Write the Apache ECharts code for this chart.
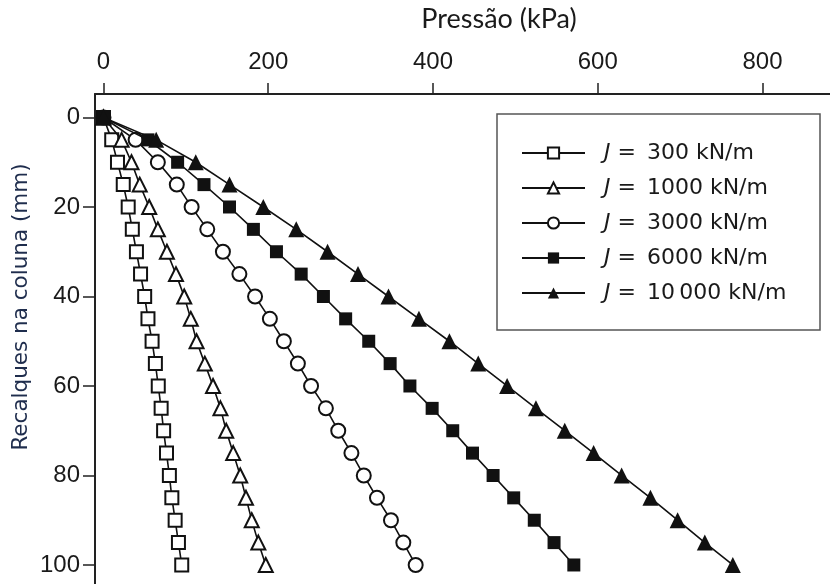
<!DOCTYPE html>
<html>
<head>
<meta charset="utf-8">
<script src="https://cdn.jsdelivr.net/npm/echarts@6/dist/echarts.min.js"></script>
<style>
  html, body { margin: 0; padding: 0; background: #fff; }
  #chart { width: 830px; height: 584px; }
</style>
</head>
<body>
<div id="chart"></div>
<script>
// Settlement of the column (mm), one reading every 5 mm
const settlement = [0, 5, 10, 15, 20, 25, 30, 35, 40, 45, 50, 55, 60, 65, 70, 75, 80, 85, 90, 95, 100];

// Applied pressure (kPa) for each geosynthetic stiffness J
const pressJ300   = [0, 10, 17, 24, 30, 35, 40, 45, 50, 54, 59, 63, 66.5, 70, 73, 76.5, 80, 83, 87, 91, 95];
const pressJ1000  = [0, 22, 34, 44, 55.5, 66, 77, 88, 98, 106, 113, 123, 133, 142, 149, 157.5, 166, 173, 180, 188, 197];
const pressJ3000  = [0, 39, 66, 89, 107, 126, 145, 165, 184, 202, 219, 236, 252, 270, 285, 301, 316, 332, 349, 364, 379];
const pressJ6000  = [0, 54, 90, 122, 153, 182, 210, 240, 267, 294, 322, 348, 372, 399, 424, 448, 473, 498, 523, 547, 571];
const pressJ10000 = [0, 64, 112, 153, 194, 234, 272, 309, 346, 383, 420, 455, 490, 525, 560, 595, 629, 664, 697, 730, 764];

const seriesNames = ['J = 300 kN/m', 'J = 1000 kN/m', 'J = 3000 kN/m', 'J = 6000 kN/m', 'J = 10\u2009000 kN/m'];
const seriesData = [pressJ300, pressJ1000, pressJ3000, pressJ6000, pressJ10000];

const pressureTicks = [0, 200, 400, 600, 800];
const settlementTicks = [0, 20, 40, 60, 80, 100];

const xTitle = 'Pressão (kPa)';
const yTitle = 'Recalques na coluna (mm)';

const ink = '#111';
const markerStyles = [
  { symbol: 'rect',     size: 13, filled: false },
  { symbol: 'triangle', size: 14, filled: false },
  { symbol: 'circle',   size: 14, filled: false },
  { symbol: 'rect',     size: 13, filled: true },
  { symbol: 'triangle', size: 16, filled: true }
];

const series = seriesData.map((vals, i) => {
  const m = markerStyles[i];
  return {
    name: seriesNames[i],
    type: 'line',
    data: vals.map((p, k) => [p, settlement[k]]),
    symbol: m.symbol,
    symbolSize: m.size,
    showAllSymbol: true,
    lineStyle: { color: ink, width: 1.6 },
    itemStyle: {
      color: m.filled ? ink : '#fff',
      borderColor: ink,
      borderWidth: m.filled ? 0 : 2
    },
    emphasis: { disabled: true },
    z: 2 + i
  };
});

// legend label: italic J, then the rest of the name with a wider gap after "="
function legendLabel(name) {
  return '{i|J} =\u2002' + name.slice(4);
}

const chart = echarts.init(document.getElementById('chart'), null, { renderer: 'canvas' });

chart.setOption({
  animation: false,
  backgroundColor: '#fff',
  grid: { left: 95, top: 94, right: 0, bottom: 0, containLabel: false },
  xAxis: {
    type: 'value',
    position: 'top',
    min: -10.3,
    max: 882,
    splitLine: { show: false },
    axisLine: { show: true, onZero: false, lineStyle: { color: '#222', width: 2 } },
    axisTick: { show: true, customValues: pressureTicks, length: 11, lineStyle: { color: '#222', width: 1.5 } },
    axisLabel: {
      customValues: pressureTicks,
      margin: 20,
      color: '#1a1a1a',
      fontFamily: 'Liberation Sans',
      fontSize: 24
    }
  },
  yAxis: {
    type: 'value',
    inverse: true,
    min: -5.25,
    max: 104.25,
    splitLine: { show: false },
    axisLine: { show: true, onZero: false, lineStyle: { color: '#222', width: 2 } },
    axisTick: { show: true, customValues: settlementTicks, length: 12, lineStyle: { color: '#222', width: 1.5 } },
    axisLabel: {
      customValues: settlementTicks,
      margin: 15,
      color: '#1a1a1a',
      fontFamily: 'Liberation Sans',
      fontSize: 24
    }
  },
  legend: {
    orient: 'vertical',
    left: 521,
    top: 142,
    itemWidth: 63,
    itemHeight: 14,
    itemGap: 13,
    padding: 0,
    selectedMode: false,
    data: seriesNames,
    formatter: legendLabel,
    textStyle: {
      fontFamily: 'DejaVu Sans',
      fontSize: 22,
      color: '#1a1a1a',
      padding: [0, 0, 0, 14],
      lineHeight: 22,
      rich: {
        i: { fontFamily: 'DejaVu Sans', fontStyle: 'italic', fontSize: 22, lineHeight: 22, color: '#1a1a1a' }
      }
    }
  },
  graphic: [
    {
      type: 'rect',
      shape: { x: 497, y: 114, width: 323, height: 216 },
      style: { fill: 'none', stroke: '#555', lineWidth: 1.5 },
      z: 1
    },
    {
      type: 'text',
      x: 499,
      y: 19,
      style: {
        text: xTitle,
        fontFamily: 'Lato',
        fontSize: 27,
        fill: '#1a1a1a',
        textAlign: 'center',
        textVerticalAlign: 'middle'
      }
    },
    {
      type: 'text',
      x: 21,
      y: 307,
      rotation: Math.PI / 2,
      style: {
        text: yTitle,
        fontFamily: 'DejaVu Sans',
        fontSize: 21.5,
        fill: '#1f2d4d',
        textAlign: 'center',
        textVerticalAlign: 'middle'
      }
    }
  ],
  series: series
});
</script>
</body>
</html>
